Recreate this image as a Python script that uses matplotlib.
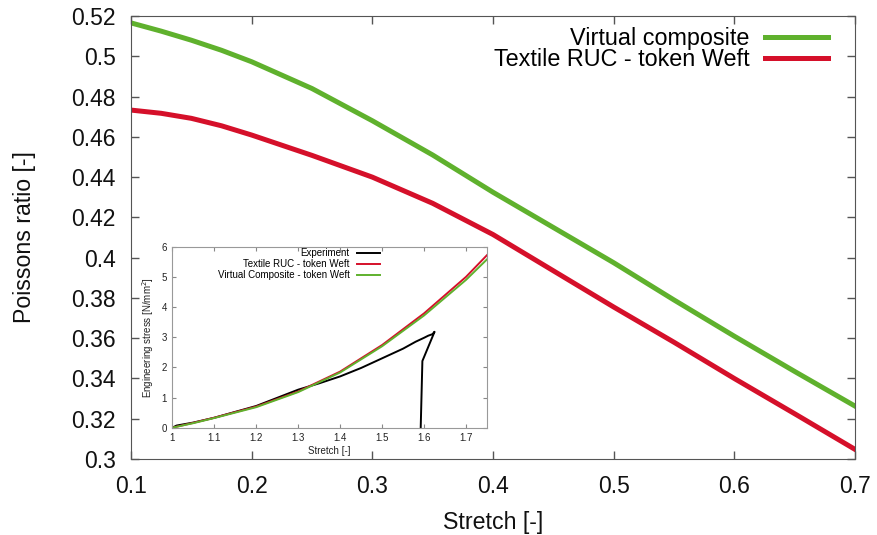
import matplotlib
matplotlib.use('AGG')
import numpy as np
import matplotlib.pyplot as plt

plt.rcParams['font.family'] = ['Liberation Sans', 'DejaVu Sans']

# main plot: poisson ratio vs stretch
stretch = [0.10, 0.125, 0.15, 0.175, 0.20, 0.25, 0.30, 0.35, 0.40, 0.45, 0.50, 0.55, 0.60, 0.65, 0.70]
nu_virtual = [0.5166, 0.5125, 0.5080, 0.5030, 0.4973, 0.4840, 0.4680, 0.4510, 0.4325, 0.4150, 0.3975, 0.3790, 0.3610, 0.3435, 0.3263]
nu_textile = [0.4733, 0.4717, 0.4692, 0.4655, 0.4609, 0.4508, 0.4400, 0.4270, 0.4115, 0.3935, 0.3755, 0.3580, 0.3400, 0.3225, 0.3048]

# inset: engineering stress vs stretch
in_stretch = [1.0, 1.05, 1.1, 1.2, 1.3, 1.4, 1.5, 1.6, 1.7, 1.75]
sig_textile = [0.0, 0.16, 0.33, 0.70, 1.20, 1.86, 2.74, 3.79, 5.00, 5.72]
sig_virtual = [0.0, 0.15, 0.32, 0.68, 1.18, 1.83, 2.70, 3.72, 4.90, 5.58]
exp_stretch = [1.0, 1.01, 1.05, 1.1, 1.2, 1.3, 1.35, 1.4, 1.45, 1.5, 1.55, 1.58, 1.6, 1.61, 1.62, 1.625, 1.596, 1.592]
sig_exp = [0.0, 0.07, 0.17, 0.33, 0.72, 1.26, 1.47, 1.70, 1.98, 2.30, 2.62, 2.85, 2.98, 3.05, 3.10, 3.18, 2.21, 0.0]

green = '#5fb12d'
red = '#d5102a'
frame = '#555555'

fig = plt.figure(figsize=(8.77, 5.35), dpi=100)
ax = fig.add_axes([0.1494, 0.142, 0.8255, 0.828])
ax.plot(stretch, nu_virtual, c=green, lw=3.6, label='Virtual composite')
ax.plot(stretch, nu_textile, c=red, lw=3.6, label='Textile RUC - token Weft')
ax.set_xlim(0.1, 0.7)
ax.set_ylim(0.3, 0.52)
ax.set_xticks(np.arange(0.1, 0.71, 0.1))
ax.set_xticklabels(['0.1', '0.2', '0.3', '0.4', '0.5', '0.6', '0.7'])
yt = np.arange(0.30, 0.521, 0.02)
ax.set_yticks(yt)
ax.set_yticklabels(['%g' % round(v, 2) for v in yt])
ax.tick_params(direction='in', length=6, width=1, colors=frame, labelcolor='#111111',
               labelsize=16.5, top=True, right=True)
ax.tick_params(axis='x', pad=11.5)
ax.tick_params(axis='y', pad=11)
for s in ax.spines.values():
    s.set_color(frame)
ax.set_xlabel('Stretch [-]', fontsize=16.7, color='#111111', labelpad=9)
ax.set_ylabel('Poissons ratio [-]', fontsize=16.7, color='#111111', labelpad=25)
ax.legend(loc='upper right', bbox_to_anchor=(0.9627, 0.976), frameon=False, markerfirst=False,
          fontsize=16.8, handlelength=2.7, handletextpad=0.65, borderpad=0, borderaxespad=0,
          labelspacing=-0.08)

# inset
ins = fig.add_axes([0.1965, 0.2006, 0.3588, 0.3383])
ins.plot(exp_stretch, sig_exp, c='black', lw=1.4, label='Experiment')
ins.plot(in_stretch, sig_textile, c=red, lw=1.4, label='Textile RUC - token Weft')
ins.plot(in_stretch, sig_virtual, c=green, lw=1.4, label='Virtual Composite - token Weft')
ins.set_xlim(1.0, 1.75)
ins.set_ylim(0, 6)
ins.set_xticks(np.arange(1.0, 1.71, 0.1))
ins.set_xticklabels(['1', '1.1', '1.2', '1.3', '1.4', '1.5', '1.6', '1.7'])
ins.set_yticks(range(0, 7))
ins.tick_params(direction='in', length=3, width=0.8, colors='#888888', labelcolor='#222222',
                labelsize=7, top=True, right=True, pad=4)
for s in ins.spines.values():
    s.set_color('#999999')
ins.set_xlabel('Stretch [-]', fontsize=7, color='#222222', labelpad=2)
ins.set_ylabel('Engineering stress [N/mm$^2$]', fontsize=7, color='#222222', labelpad=4)
ins.legend(loc='upper right', bbox_to_anchor=(0.66, 0.99), frameon=False, markerfirst=False,
           fontsize=7, handlelength=2.4, handletextpad=0.7, labelspacing=0.08,
           borderpad=0, borderaxespad=0)

plt.savefig('out.png', dpi=100)
plt.close(fig)
